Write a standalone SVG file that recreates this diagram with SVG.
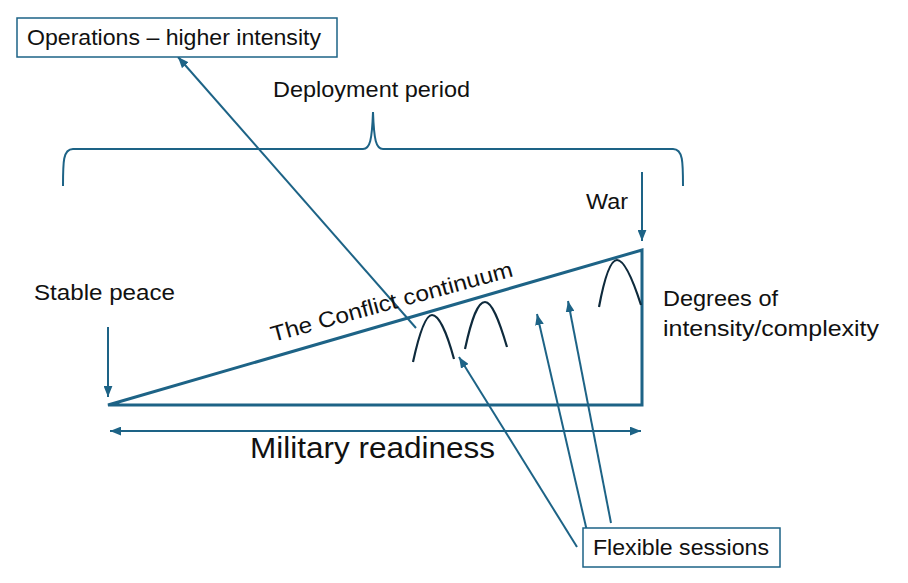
<svg xmlns="http://www.w3.org/2000/svg" width="908" height="583" viewBox="0 0 908 583">
<defs>
<style>
.ln{stroke:#1d6386;fill:none;stroke-width:2}
.tri{stroke:#1d6386;fill:none;stroke-width:3;stroke-linejoin:miter}
.bump{stroke:#0e2a3c;fill:none;stroke-width:2.2;stroke-linecap:butt}
.box{fill:#ffffff;stroke:#1d6386;stroke-width:1.5}
text{font-family:"Liberation Sans",Arial,sans-serif;fill:#111111;font-size:22px}
.big{font-size:30px}
</style>
<marker id="ah" viewBox="0 0 10 8" refX="10" refY="4" markerWidth="11" markerHeight="9" markerUnits="userSpaceOnUse" orient="auto-start-reverse">
<path d="M0,0 L10,4 L0,8 z" fill="#1d6386"/>
</marker>
</defs>
<rect width="908" height="583" fill="#ffffff"/>

<g id="triangle">
<path class="tri" d="M108,405 L642,250 L642,405 Z"/>
</g>

<g id="bumps">
<path class="bump" d="M413,362 C420,330 426,315 432,315 C439,315 447,333 454,359"/>
<path class="bump" d="M465,349 C472,317 478,302 485,302 C492,302 499,320 507,347"/>
<path class="bump" d="M599,307 C605,275 611,260 617,260 C624,260 632,277 641,305"/>
</g>

<g id="brace">
<path class="ln" d="M63,186 C63,162 63,149 73,149 L363,149 C370,149 372,140 373,112 C374,140 376,149 383,149 L673,149 C683,149 683,162 683,186"/>
</g>

<g id="connectors">
<line class="ln" x1="108" y1="327" x2="108" y2="397" marker-end="url(#ah)"/>
<line class="ln" x1="642" y1="172" x2="642" y2="241" marker-end="url(#ah)"/>
<line class="ln" x1="110" y1="431" x2="641" y2="431" marker-start="url(#ah)" marker-end="url(#ah)"/>
<line class="ln" x1="416" y1="328" x2="178" y2="57" marker-end="url(#ah)"/>
<line class="ln" x1="577" y1="547" x2="459" y2="357" marker-end="url(#ah)"/>
<line class="ln" x1="589" y1="540" x2="537" y2="314" marker-end="url(#ah)"/>
<line class="ln" x1="611" y1="523" x2="568" y2="301" marker-end="url(#ah)"/>
</g>

<g id="operations">
<rect class="box" x="17" y="18" width="320" height="39"/>
<text x="27" y="45" textLength="294" lengthAdjust="spacingAndGlyphs">Operations – higher intensity</text>
</g>

<g id="flexible">
<rect class="box" x="583" y="528" width="197" height="39"/>
<text x="593" y="555" textLength="176" lengthAdjust="spacingAndGlyphs">Flexible sessions</text>
</g>

<g id="labels">
<text x="273" y="97" textLength="197" lengthAdjust="spacingAndGlyphs">Deployment period</text>
<text x="586" y="209" textLength="42" lengthAdjust="spacingAndGlyphs">War</text>
<text x="34" y="300" textLength="141" lengthAdjust="spacingAndGlyphs">Stable peace</text>
<text x="663" y="306" textLength="115" lengthAdjust="spacingAndGlyphs">Degrees of</text>
<text x="663" y="336" textLength="216" lengthAdjust="spacingAndGlyphs">intensity/complexity</text>
<text x="273" y="342" transform="rotate(-15.3 273 342)" textLength="250" lengthAdjust="spacingAndGlyphs">The Conflict continuum</text>
<text class="big" x="250" y="458" textLength="245" lengthAdjust="spacingAndGlyphs">Military readiness</text>
</g>
</svg>
